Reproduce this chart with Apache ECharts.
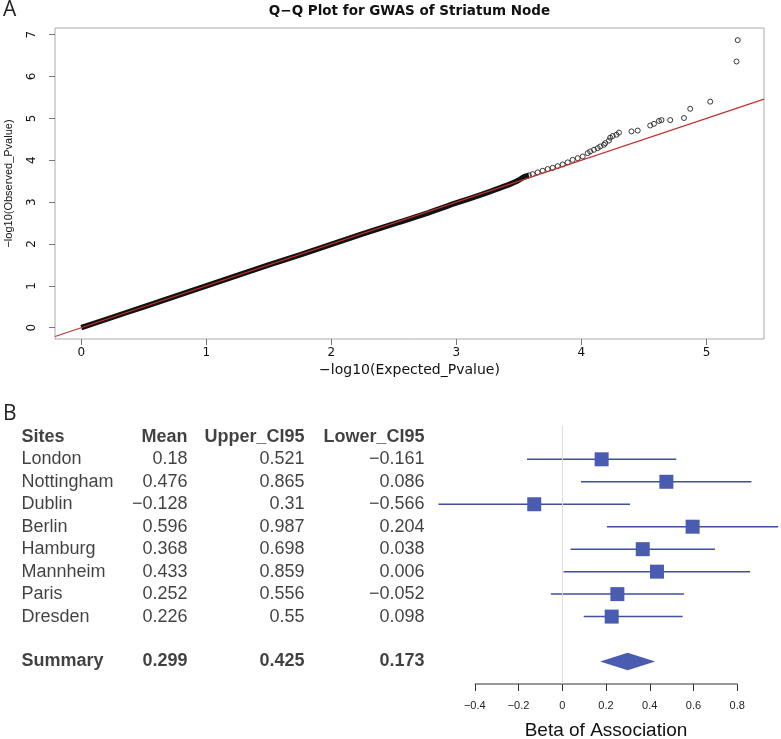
<!DOCTYPE html>
<html>
<head>
<meta charset="utf-8">
<title>Q-Q Plot and Forest Plot</title>
<script src="https://cdn.jsdelivr.net/npm/echarts@6/dist/echarts.min.js"></script>
<style>
  html, body { margin: 0; padding: 0; background: #fff; }
  #chart { width: 781px; height: 739px; }
</style>
</head>
<body>
<div id="chart"></div>
<script>
// ---- panel A : Q-Q plot ----
var qqTicksX = [0, 1, 2, 3, 4, 5];
var qqTicksY = [0, 1, 2, 3, 4, 5, 6, 7];
var qqLimX = [-0.21, 5.46];
var qqLimY = [-0.27, 7.16];
// dense part of the curve (overlapping circles look like a thick band)
var qqBandX = [0, 0.25, 0.5, 0.75, 1.0, 1.25, 1.5, 1.75, 2.0, 2.25, 2.5, 2.75, 3.0, 3.2, 3.35, 3.43, 3.49, 3.54, 3.58];
var qqBandY = [0, 0.25, 0.5, 0.75, 1.0, 1.25, 1.5, 1.74, 1.99, 2.24, 2.48, 2.72, 2.98, 3.18, 3.34, 3.43, 3.51, 3.6, 3.64];
// sparse tail, single circles
var qqTailX = [3.55, 3.58, 3.61, 3.65, 3.69, 3.73, 3.77, 3.81, 3.85, 3.89, 3.93, 3.97, 4.01, 4.05, 4.07, 4.10, 4.13, 4.15, 4.18, 4.19, 4.22, 4.23, 4.25, 4.28, 4.30, 4.40, 4.45, 4.55, 4.58, 4.62, 4.64, 4.71, 4.82, 4.87, 5.03, 5.24, 5.25];
var qqTailY = [3.61, 3.64, 3.67, 3.71, 3.75, 3.79, 3.82, 3.86, 3.90, 3.95, 4.01, 4.05, 4.09, 4.17, 4.21, 4.25, 4.29, 4.33, 4.37, 4.41, 4.47, 4.54, 4.58, 4.61, 4.66, 4.69, 4.71, 4.83, 4.87, 4.94, 4.96, 4.96, 5.01, 5.23, 5.40, 6.36, 6.87];

// ---- panel B : forest plot ----
var tableHeader = ['Sites', 'Mean', 'Upper_CI95', 'Lower_CI95'];
var sites = ['London', 'Nottingham', 'Dublin', 'Berlin', 'Hamburg', 'Mannheim', 'Paris', 'Dresden'];
var means = [0.18, 0.476, -0.128, 0.596, 0.368, 0.433, 0.252, 0.226];
var uppers = [0.521, 0.865, 0.31, 0.987, 0.698, 0.859, 0.556, 0.55];
var lowers = [-0.161, 0.086, -0.566, 0.204, 0.038, 0.006, -0.052, 0.098];
var summaryName = 'Summary';
var summaryMean = 0.299;
var summaryUpper = 0.425;
var summaryLower = 0.173;
var betaTicks = [-0.4, -0.2, 0, 0.2, 0.4, 0.6, 0.8];

var summaryRow = sites.length + 2;
var rowMin = -0.5, rowMax = summaryRow + 1;

function fmt(v) {
  return String(v).replace('-', '\u2212');
}

var tableFont = '"Liberation Sans", Arial, sans-serif';
var rFont = '"DejaVu Sans", sans-serif';

// column anchors on the hidden table axis (pixels)
var colX = [21, 188, 305, 425];

function tableColumn(c) {
  var data = [];
  data.push({ value: [colX[c], 0], label: { formatter: tableHeader[c], fontWeight: 'bold' } });
  sites.forEach(function (s, i) {
    var txt = c === 0 ? s : fmt([means, uppers, lowers][c - 1][i]);
    data.push({ value: [colX[c], i + 1], label: { formatter: txt } });
  });
  var sumTxt = c === 0 ? summaryName : fmt([summaryMean, summaryUpper, summaryLower][c - 1]);
  data.push({ value: [colX[c], summaryRow], label: { formatter: sumTxt, fontWeight: 'bold' } });
  return {
    type: 'scatter',
    xAxisIndex: 2,
    yAxisIndex: 2,
    symbolSize: 1,
    itemStyle: { color: 'transparent' },
    silent: true,
    label: {
      show: true,
      position: c === 0 ? 'right' : 'left',
      distance: 0,
      fontFamily: tableFont,
      fontSize: 18,
      color: '#111'
    },
    data: data
  };
}

var chart = echarts.init(document.getElementById('chart'));

var option = {
  animation: false,
  backgroundColor: '#fff',
  graphic: [
    { type: 'text', x: 3, y: 0, style: { text: 'A', font: '21px "Open Sans", sans-serif', fill: '#222' } },
    { type: 'text', x: 409.5, y: 4, style: { text: 'Q\u2212Q Plot for GWAS of Striatum Node', font: 'bold 13.5px ' + rFont, fill: '#111', align: 'center', textAlign: 'center' } },
    { type: 'text', x: 3, y: 404, style: { text: 'B', font: '21px "Open Sans", sans-serif', fill: '#222' } }
  ],
  grid: [
    { left: 55, right: 17, top: 28, bottom: 400, show: true, borderColor: '#aaa', borderWidth: 1, outerBoundsMode: 'none' },
    { left: 431, right: 0, top: 425.6, bottom: 55, outerBoundsMode: 'none' },
    { left: 0, right: 0, top: 425.6, bottom: 55, outerBoundsMode: 'none' }
  ],
  xAxis: [
    {
      gridIndex: 0, type: 'value', min: qqLimX[0], max: qqLimX[1], position: 'bottom',
      name: '\u2212log10(Expected_Pvalue)', nameLocation: 'middle', nameGap: 24,
      nameTextStyle: { fontFamily: rFont, fontSize: 14, color: '#111' },
      axisLine: { show: false, onZero: false },
      splitLine: { show: false },
      axisTick: { show: true, customValues: qqTicksX, length: 6, lineStyle: { color: '#777', width: 1 } },
      axisLabel: { customValues: qqTicksX, margin: 8, fontFamily: rFont, fontSize: 12, color: '#111' }
    },
    {
      gridIndex: 1, type: 'value', min: -0.6, max: 1.0, position: 'bottom',
      name: 'Beta of Association', nameLocation: 'middle', nameGap: 37,
      nameTextStyle: { fontFamily: tableFont, fontSize: 19, color: '#111' },
      axisLine: { show: false, onZero: false },
      splitLine: { show: false },
      axisTick: { show: true, customValues: betaTicks, length: 7, lineStyle: { color: '#333' } },
      axisLabel: { customValues: betaTicks, margin: 16, formatter: fmt, fontFamily: tableFont, fontSize: 11, color: '#222' }
    },
    { gridIndex: 2, type: 'value', min: 0, max: 781, show: false }
  ],
  yAxis: [
    {
      gridIndex: 0, type: 'value', min: qqLimY[0], max: qqLimY[1], position: 'left',
      name: '\u2212log10(Observed_Pvalue)', nameLocation: 'middle', nameGap: 41,
      nameTextStyle: { fontFamily: tableFont, fontSize: 11, color: '#111' },
      axisLine: { show: false, onZero: false },
      splitLine: { show: false },
      axisTick: { show: true, customValues: qqTicksY, length: 6, lineStyle: { color: '#777', width: 1 } },
      axisLabel: { customValues: qqTicksY, rotate: 90, margin: 17, fontFamily: rFont, fontSize: 12, color: '#111' }
    },
    { gridIndex: 1, type: 'value', min: rowMin, max: rowMax, inverse: true, show: false },
    { gridIndex: 2, type: 'value', min: rowMin, max: rowMax, inverse: true, show: false }
  ],
  series: [
    {
      type: 'line', xAxisIndex: 0, yAxisIndex: 0,
      data: qqBandX.map(function (x, i) { return [x, qqBandY[i]]; }),
      showSymbol: false, smooth: 0.3,
      lineStyle: { color: '#111', width: 5.5 },
      silent: true
    },
    {
      type: 'scatter', xAxisIndex: 0, yAxisIndex: 0,
      data: qqTailX.map(function (x, i) { return [x, qqTailY[i]]; }),
      symbol: 'circle', symbolSize: 5,
      itemStyle: { color: 'rgba(255,255,255,0)', borderColor: '#222', borderWidth: 0.9, opacity: 1 },
      silent: true
    },
    {
      // identity reference line y = x
      type: 'line', xAxisIndex: 0, yAxisIndex: 0,
      data: [[qqLimX[0], qqLimX[0]], [qqLimX[1], qqLimX[1]]],
      showSymbol: false,
      lineStyle: { color: '#c43030', width: 1.2 },
      silent: true
    },
    {
      // confidence intervals
      type: 'custom', xAxisIndex: 1, yAxisIndex: 1,
      data: sites.map(function (s, i) { return [lowers[i], uppers[i], i + 1]; }),
      encode: { x: [0, 1], y: 2 },
      renderItem: function (params, api) {
        var a = api.coord([api.value(0), api.value(2)]);
        var b = api.coord([api.value(1), api.value(2)]);
        return {
          type: 'line',
          shape: { x1: a[0], y1: a[1], x2: b[0], y2: b[1] },
          style: { stroke: '#3f4f9f', lineWidth: 1.5 }
        };
      },
      markLine: {
        silent: true, symbol: 'none',
        label: { show: false },
        lineStyle: { color: '#dcdcdc', type: 'solid', width: 1 },
        data: [{ xAxis: 0 }]
      },
      silent: true
    },
    {
      type: 'scatter', xAxisIndex: 1, yAxisIndex: 1,
      data: sites.map(function (s, i) { return [means[i], i + 1]; }),
      symbol: 'rect', symbolSize: 14,
      itemStyle: { color: '#4a5cb0', opacity: 1 },
      silent: true
    },
    {
      // summary diamond
      type: 'custom', xAxisIndex: 1, yAxisIndex: 1,
      data: [[summaryLower, summaryMean, summaryUpper, summaryRow]],
      encode: { x: [0, 1, 2], y: 3 },
      renderItem: function (params, api) {
        var lo = api.coord([api.value(0), api.value(3)]);
        var c = api.coord([api.value(1), api.value(3)]);
        var hi = api.coord([api.value(2), api.value(3)]);
        var h = 8.7;
        return {
          type: 'polygon',
          shape: { points: [[lo[0], c[1]], [c[0], c[1] - h], [hi[0], c[1]], [c[0], c[1] + h]] },
          style: { fill: '#4a5cb0' }
        };
      },
      silent: true
    },
    {
      // axis line of the forest plot, spanning first to last tick
      type: 'line', xAxisIndex: 1, yAxisIndex: 1,
      data: [[betaTicks[0], rowMax], [betaTicks[betaTicks.length - 1], rowMax]],
      showSymbol: false, clip: false,
      lineStyle: { color: '#333', width: 1 },
      silent: true
    },
    tableColumn(0),
    tableColumn(1),
    tableColumn(2),
    tableColumn(3)
  ]
};

chart.setOption(option);
</script>
</body>
</html>
